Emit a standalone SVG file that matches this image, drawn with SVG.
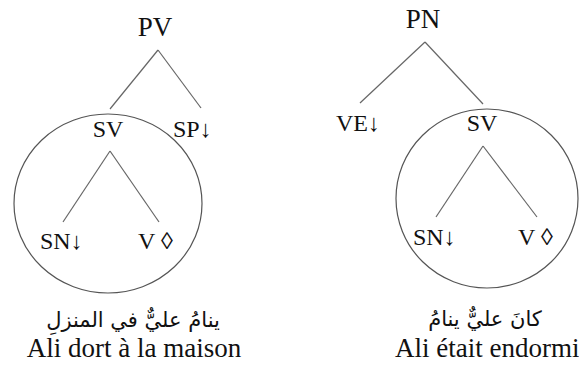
<svg xmlns="http://www.w3.org/2000/svg" width="579" height="365" viewBox="0 0 579 365">
<style>
text{font-family:'Liberation Serif','Times New Roman',Tinos,'DejaVu Serif','Noto Serif',serif;fill:#111;}
.lbl{font-size:24px;}
.root{font-size:27px;}
.cap{font-size:27px;text-anchor:middle;}
.ar{font-family:'DejaVu Sans','Noto Sans',sans-serif;font-size:21px;text-anchor:middle;}
.mid{text-anchor:middle;}
.edge{stroke:#666;stroke-width:1.2;fill:none;}
.ring{stroke:#555;stroke-width:1.2;fill:none;}
</style>
<rect width="579" height="365" fill="#fff"/>
<g id="connectors">
<line class="edge" x1="158" y1="50" x2="110" y2="109"/>
<line class="edge" x1="158" y1="50" x2="201" y2="108"/>
<line class="edge" x1="110" y1="151" x2="63" y2="222"/>
<line class="edge" x1="110" y1="151" x2="159" y2="222"/>
<line class="edge" x1="425" y1="42" x2="360" y2="103"/>
<line class="edge" x1="425" y1="42" x2="483" y2="104"/>
<line class="edge" x1="483" y1="146" x2="436" y2="217"/>
<line class="edge" x1="483" y1="146" x2="537" y2="217"/>
</g>
<g id="circles">
<ellipse class="ring" cx="108" cy="203.5" rx="94" ry="89.5"/>
<ellipse class="ring" cx="487" cy="198.5" rx="91" ry="89.5"/>
</g>
<g id="node-PV"><text class="lbl root mid" x="155" y="36" font-family="Liberation Serif, serif">PV</text></g>
<g id="node-SV1"><text class="lbl mid" x="108" y="137" font-family="Liberation Serif, serif">SV</text></g>
<g id="node-SP"><text class="lbl" x="173" y="137" font-family="Liberation Serif, serif">SP↓</text></g>
<g id="node-SN1"><text class="lbl" x="40" y="249" font-family="Liberation Serif, serif">SN↓</text></g>
<g id="node-V1"><text class="lbl" x="138" y="249" font-family="Liberation Serif, serif">V ◊</text></g>
<g id="caption-left">
<text class="ar" x="133" y="327" direction="rtl">ينامُ عليٌّ  في المنزلِ</text>
<text class="cap" x="134" y="357" font-family="Liberation Serif, serif">Ali dort à la maison</text>
</g>
<g id="node-PN"><text class="lbl root mid" x="423" y="28" font-family="Liberation Serif, serif">PN</text></g>
<g id="node-VE"><text class="lbl" x="336" y="131" font-family="Liberation Serif, serif">VE↓</text></g>
<g id="node-SV2"><text class="lbl mid" x="482" y="131" font-family="Liberation Serif, serif">SV</text></g>
<g id="node-SN2"><text class="lbl" x="413" y="245" font-family="Liberation Serif, serif">SN↓</text></g>
<g id="node-V2"><text class="lbl" x="518" y="245" font-family="Liberation Serif, serif">V ◊</text></g>
<g id="caption-right">
<text class="ar" x="485" y="326" direction="rtl">كانَ عليٌّ ينامُ</text>
<text class="cap" x="395" y="357" style="text-anchor:start" font-family="Liberation Serif, serif">Ali était endormi</text>
</g>
</svg>
